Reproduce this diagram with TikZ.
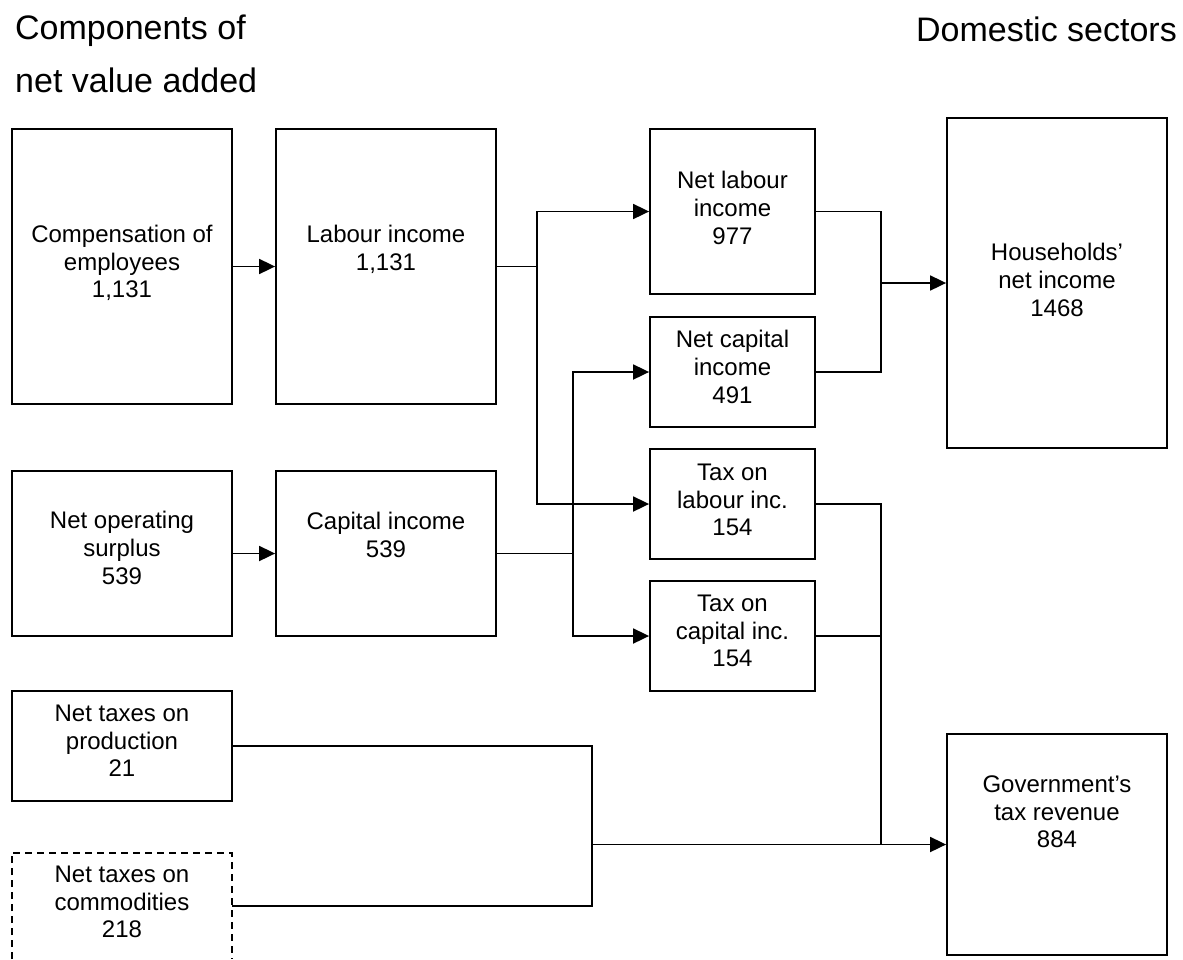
\documentclass[tikz,border=0pt]{standalone}
\usepackage{fontspec}
\setmainfont{Liberation Sans}
\usetikzlibrary{arrows.meta}
\begin{document}
\begin{tikzpicture}[x=1pt,y=-1pt,
  box/.style={draw, line width=1.8pt, inner sep=0pt, minimum width=#1},
  box/.default=220pt,
  ghost/.style={inner sep=0pt, minimum width=220pt},
  lbl/.style={align=center, inner sep=0pt, font=\fontsize{24}{27.6}\selectfont},
  head/.style={inner sep=0pt, font=\fontsize{34}{39}\selectfont},
  conn/.style={line width=1.8pt},
  arr/.style={line width=1.8pt, -{Triangle[length=16pt,width=15pt]}}]
\useasboundingbox (0,0) rectangle (1183,959);

% headings
\node[head, anchor=base west] (h1) at (15,39.3) {Components of};
\node[head, anchor=base west] (h2) at (15,92) {net value added};
\node[head, anchor=base east] (h3) at (1177,41.5) {Domestic sectors};

% boxes
\node[box, minimum height=275pt] (comp) at (122,266.5) {};
\node[box, minimum height=275pt] (lab) at (386,266.5) {};
\node[box=165pt, minimum height=165pt] (nlab) at (732.5,211.5) {};
\node[box=165pt, minimum height=110pt] (ncap) at (732.5,372) {};
\node[box=165pt, minimum height=110pt] (tlab) at (732.5,504) {};
\node[box=165pt, minimum height=110pt] (tcap) at (732.5,636) {};
\node[box, minimum height=330pt] (hh) at (1057,283) {};
\node[box, minimum height=165pt] (nos) at (122,553.5) {};
\node[box, minimum height=165pt] (capi) at (386,553.5) {};
\node[box, minimum height=110pt] (prod) at (122,746) {};
\node[ghost, minimum height=106pt] (com) at (122,906) {};
\draw[line width=1.8pt, dash pattern=on 7pt off 5pt]
  (com.south west) -- (com.north west) -- (com.north east) -- (com.south east);
\node[box, minimum height=221pt] (gov) at (1057,844.5) {};

% labels
\node[lbl] (tcomp) at (122,263) {Compensation of\\employees\\1,131};
\node[lbl] (tlabi) at (386,249.5) {Labour income\\1,131};
\node[lbl] (tnlab) at (732.5,208) {Net labour\\income\\977};
\node[lbl] (tncap) at (732.5,367) {Net capital\\income\\491};
\node[lbl] (ttlab) at (732.5,500) {Tax on\\labour inc.\\154};
\node[lbl] (ttcap) at (732.5,631) {Tax on\\capital inc.\\154};
\node[lbl] (thh) at (1057,280) {Households’\\net income\\1468};
\node[lbl] (tnos) at (122,548) {Net operating\\surplus\\539};
\node[lbl] (tcapi) at (386,535) {Capital income\\539};
\node[lbl] (tprod) at (122,741) {Net taxes on\\production\\21};
\node[lbl] (tcom) at (122,902) {Net taxes on\\commodities\\218};
\node[lbl] (tgov) at (1057,812) {Government’s\\tax revenue\\884};

% junctions
\coordinate (j1) at (537,266.5);
\coordinate (j2) at (573,553.5);
\coordinate (j3) at (881,283);
\coordinate (j4) at (592,844.5);
\coordinate (j5) at (881,844.5);

% connectors
\draw[arr] (comp) -- (lab);
\draw[arr] (nos) -- (capi);
\draw[conn] (lab.east) -- (j1);
\draw[arr] (j1) |- (nlab.west);
\draw[arr] (j1) |- (tlab.west);
\draw[conn] (capi.east) -- (j2);
\draw[arr] (j2) |- (ncap.west);
\draw[arr] (j2) |- (tcap.west);
\draw[conn] (nlab.east) -| (j3);
\draw[conn] (ncap.east) -| (j3);
\draw[arr] (j3) -- (hh.west);
\draw[conn] (prod.east) -| (j4);
\draw[conn] (com.east) -| (j4);
\draw[conn] (tlab.east) -| (j5);
\draw[conn] (tcap.east) -| (j5);
\draw[arr] (j4) -- (gov.west);
\end{tikzpicture}
\end{document}
